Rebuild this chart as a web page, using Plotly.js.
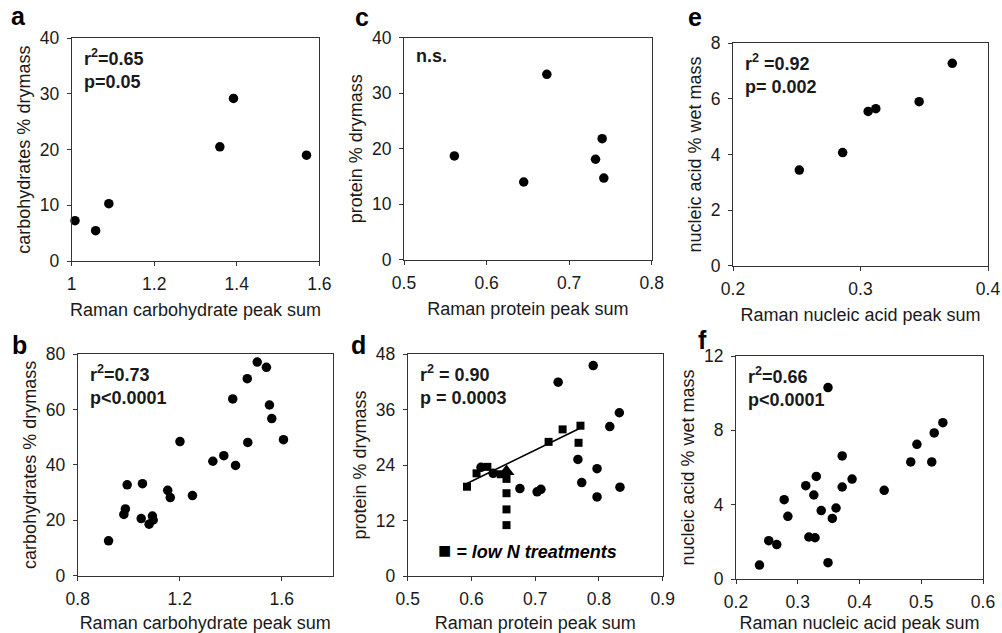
<!DOCTYPE html>
<html>
<head>
<meta charset="utf-8">
<script src="https://cdn.plot.ly/plotly-3.0.1.min.js"></script>
<style>html,body{margin:0;padding:0;background:#fff;}#chart{width:1002px;height:633px;}</style>
</head>
<body>
<div id="chart"></div>
<script>
// ---- data ----
// panel a: carbohydrates vs Raman carbohydrate peak sum
const aX = [1.008, 1.058, 1.090, 1.359, 1.392, 1.569];
const aY = [7.25, 5.45, 10.3, 20.5, 29.2, 19.0];
// panel c: protein vs Raman protein peak sum
const cX = [0.561, 0.645, 0.673, 0.732, 0.740, 0.742];
const cY = [18.7, 14.0, 33.4, 18.1, 21.8, 14.7];
// panel e: nucleic acid vs Raman nucleic acid peak sum
const eX = [0.252, 0.286, 0.306, 0.312, 0.346, 0.372];
const eY = [3.44, 4.07, 5.55, 5.65, 5.90, 7.28];
// panel b
const bX = [0.921, 0.981, 0.987, 0.994, 1.049, 1.054, 1.080, 1.093, 1.096, 1.153, 1.163, 1.201,
            1.250, 1.330, 1.373, 1.419, 1.408, 1.467, 1.465, 1.504, 1.540, 1.552, 1.561, 1.607];
const bY = [12.6, 22.1, 24.1, 32.8, 20.6, 33.2, 18.6, 21.5, 20.1, 30.8, 28.2, 48.4,
            28.9, 41.3, 43.3, 39.8, 63.8, 48.1, 71.1, 77.1, 75.2, 61.6, 56.7, 49.1];
// panel d: circles (other treatments), squares (low N treatments), triangle
const dCircX = [0.615, 0.634, 0.676, 0.703, 0.709, 0.736, 0.791, 0.832, 0.817, 0.767, 0.797, 0.773, 0.797, 0.833];
const dCircY = [23.5, 22.2, 18.9, 18.2, 18.75, 41.9, 45.5, 35.3, 32.3, 25.2, 23.2, 20.2, 17.1, 19.2];
const dSqX = [0.593, 0.608, 0.625, 0.646, 0.655, 0.655, 0.655, 0.655, 0.721, 0.743, 0.771, 0.768];
const dSqY = [19.3, 22.2, 23.6, 22.0, 21.0, 17.9, 14.4, 11.0, 29.0, 31.7, 32.5, 28.8];
const dTriX = [0.655];
const dTriY = [22.6];
const dLineX = [0.593, 0.771];
const dLineY = [20.0, 32.0];
// panel f
const fX = [0.238, 0.253, 0.266, 0.278, 0.284, 0.313, 0.318, 0.328, 0.326, 0.330, 0.338, 0.349,
            0.349, 0.356, 0.362, 0.372, 0.372, 0.388, 0.440, 0.483, 0.493, 0.517, 0.521, 0.535];
const fY = [0.75, 2.06, 1.85, 4.27, 3.37, 5.02, 2.26, 2.22, 4.52, 5.52, 3.68, 10.3,
            0.88, 3.26, 3.82, 6.62, 4.95, 5.38, 4.77, 6.30, 7.25, 6.30, 7.86, 8.41];

const panelLetters = ['a', 'c', 'e', 'b', 'd', 'f'];
const xTitles = ['Raman carbohydrate peak sum', 'Raman protein peak sum', 'Raman nucleic acid peak sum',
                 'Raman carbohydrate peak sum', 'Raman protein peak sum', 'Raman nucleic acid peak sum'];
const yTitles = ['carbohydrates % drymass', 'protein % drymass', 'nucleic acid % wet mass',
                 'carbohydrates % drymass', 'protein % drymass', 'nucleic acid % wet mass'];
const statTexts = ['r<sup>2</sup>=0.65<br>p=0.05', 'n.s.', 'r<sup>2</sup> =0.92<br>p= 0.002',
                   'r<sup>2</sup>=0.73<br>p&lt;0.0001', 'r<sup>2</sup> = 0.90<br>p = 0.0003', 'r<sup>2</sup>=0.66<br>p&lt;0.0001'];
const legendText = '= low N treatments';

// ---- layout geometry (pixels) ----
const W = 1002, H = 633;
const boxes = [ // [left, right, top, bottom]
  [71.7, 319.3, 38.3, 261.0],
  [404.0, 651.7, 37.7, 259.7],
  [733.0, 988.0, 43.3, 265.7],
  [77.7, 332.7, 354.0, 575.7],
  [407.7, 662.7, 354.0, 576.0],
  [736.0, 983.0, 356.0, 579.0]
];
const xr = [[1, 1.6], [0.5, 0.8], [0.2, 0.4], [0.8, 1.8], [0.5, 0.9], [0.2, 0.6]];
const xd = [0.2, 0.1, 0.1, 0.4, 0.1, 0.1];
const yr = [[0, 40], [0, 40], [0, 8], [0, 80], [0, 48], [0, 12]];
const yd = [10, 10, 2, 20, 12, 4];
const letterPos = [[18, 16], [362, 17], [695, 17], [19, 345], [358, 345], [702, 340]];

const FONT = 'Liberation Sans, Arial, sans-serif';
const INK = '#1a1a1a';
const AX = '#333333';

const dot = {color: '#000', size: 9.5, symbol: 'circle'};
const traces = [
  {x: aX, y: aY, xaxis: 'x', yaxis: 'y', mode: 'markers', marker: dot, cliponaxis: false},
  {x: cX, y: cY, xaxis: 'x2', yaxis: 'y2', mode: 'markers', marker: dot, cliponaxis: false},
  {x: eX, y: eY, xaxis: 'x3', yaxis: 'y3', mode: 'markers', marker: dot, cliponaxis: false},
  {x: bX, y: bY, xaxis: 'x4', yaxis: 'y4', mode: 'markers', marker: dot, cliponaxis: false},
  {x: dCircX, y: dCircY, xaxis: 'x5', yaxis: 'y5', mode: 'markers', marker: dot, cliponaxis: false},
  {x: dLineX, y: dLineY, xaxis: 'x5', yaxis: 'y5', mode: 'lines', line: {color: '#000', width: 1.6}},
  {x: dSqX, y: dSqY, xaxis: 'x5', yaxis: 'y5', mode: 'markers', marker: {color: '#000', size: 8, symbol: 'square'}, cliponaxis: false},
  {x: dTriX, y: dTriY, xaxis: 'x5', yaxis: 'y5', mode: 'markers', marker: {color: '#000', size: 14, symbol: 'triangle-up'}, cliponaxis: false},
  {x: fX, y: fY, xaxis: 'x6', yaxis: 'y6', mode: 'markers', marker: dot, cliponaxis: false}
];

const layout = {
  width: W, height: H,
  margin: {l: 0, r: 0, t: 0, b: 0},
  paper_bgcolor: '#fff', plot_bgcolor: '#fff',
  showlegend: false,
  font: {family: FONT, size: 17, color: INK},
  annotations: []
};

boxes.forEach((b, i) => {
  const n = i === 0 ? '' : String(i + 1);
  layout['xaxis' + n] = {
    domain: [b[0] / W, b[1] / W], anchor: 'y' + n,
    range: xr[i], dtick: xd[i], tick0: xr[i][0],
    showgrid: false, zeroline: false,
    showline: true, linecolor: AX, linewidth: 1, mirror: true,
    ticks: 'outside', ticklen: 4, tickcolor: AX,
    ticklabelstandoff: 3,
    tickfont: {family: FONT, size: 17.5, color: INK},
    title: {text: xTitles[i], font: {family: FONT, size: 18, color: INK}, standoff: 10}
  };
  layout['yaxis' + n] = {
    domain: [1 - b[3] / H, 1 - b[2] / H], anchor: 'x' + n,
    range: yr[i], dtick: yd[i], tick0: 0,
    showgrid: false, zeroline: false,
    showline: true, linecolor: AX, linewidth: 1, mirror: true,
    ticks: 'outside', ticklen: 4, tickcolor: AX,
    ticklabelstandoff: 4,
    tickfont: {family: FONT, size: 17.5, color: INK},
    title: {text: yTitles[i], font: {family: FONT, size: 18, color: INK}, standoff: 4}
  };
  // statistics text
  layout.annotations.push({
    xref: 'x' + n + ' domain', yref: 'y' + n + ' domain', x: 0, y: 1,
    xanchor: 'left', yanchor: 'top', xshift: 10, yshift: -6, align: 'left',
    showarrow: false, text: '<b>' + statTexts[i] + '</b>',
    font: {family: FONT, size: 18, color: INK}
  });
  // panel letter
  layout.annotations.push({
    xref: 'paper', yref: 'paper',
    x: letterPos[i][0] / W, y: 1 - letterPos[i][1] / H,
    xanchor: 'center', yanchor: 'middle', showarrow: false,
    text: '<b>' + panelLetters[i] + '</b>',
    font: {family: FONT, size: 25, color: '#000'}
  });
});

// legend text in panel d
layout.annotations.push({
  xref: 'x5 domain', yref: 'y5 domain', x: 0.11, y: 0.115,
  xanchor: 'left', yanchor: 'middle', showarrow: false,
  text: '<span style="font-size:22px">■</span><b><i> ' + legendText + '</i></b>',
  font: {family: FONT, size: 18, color: '#000'}
});

Plotly.newPlot('chart', traces, layout, {staticPlot: true, displayModeBar: false});
</script>
</body>
</html>
